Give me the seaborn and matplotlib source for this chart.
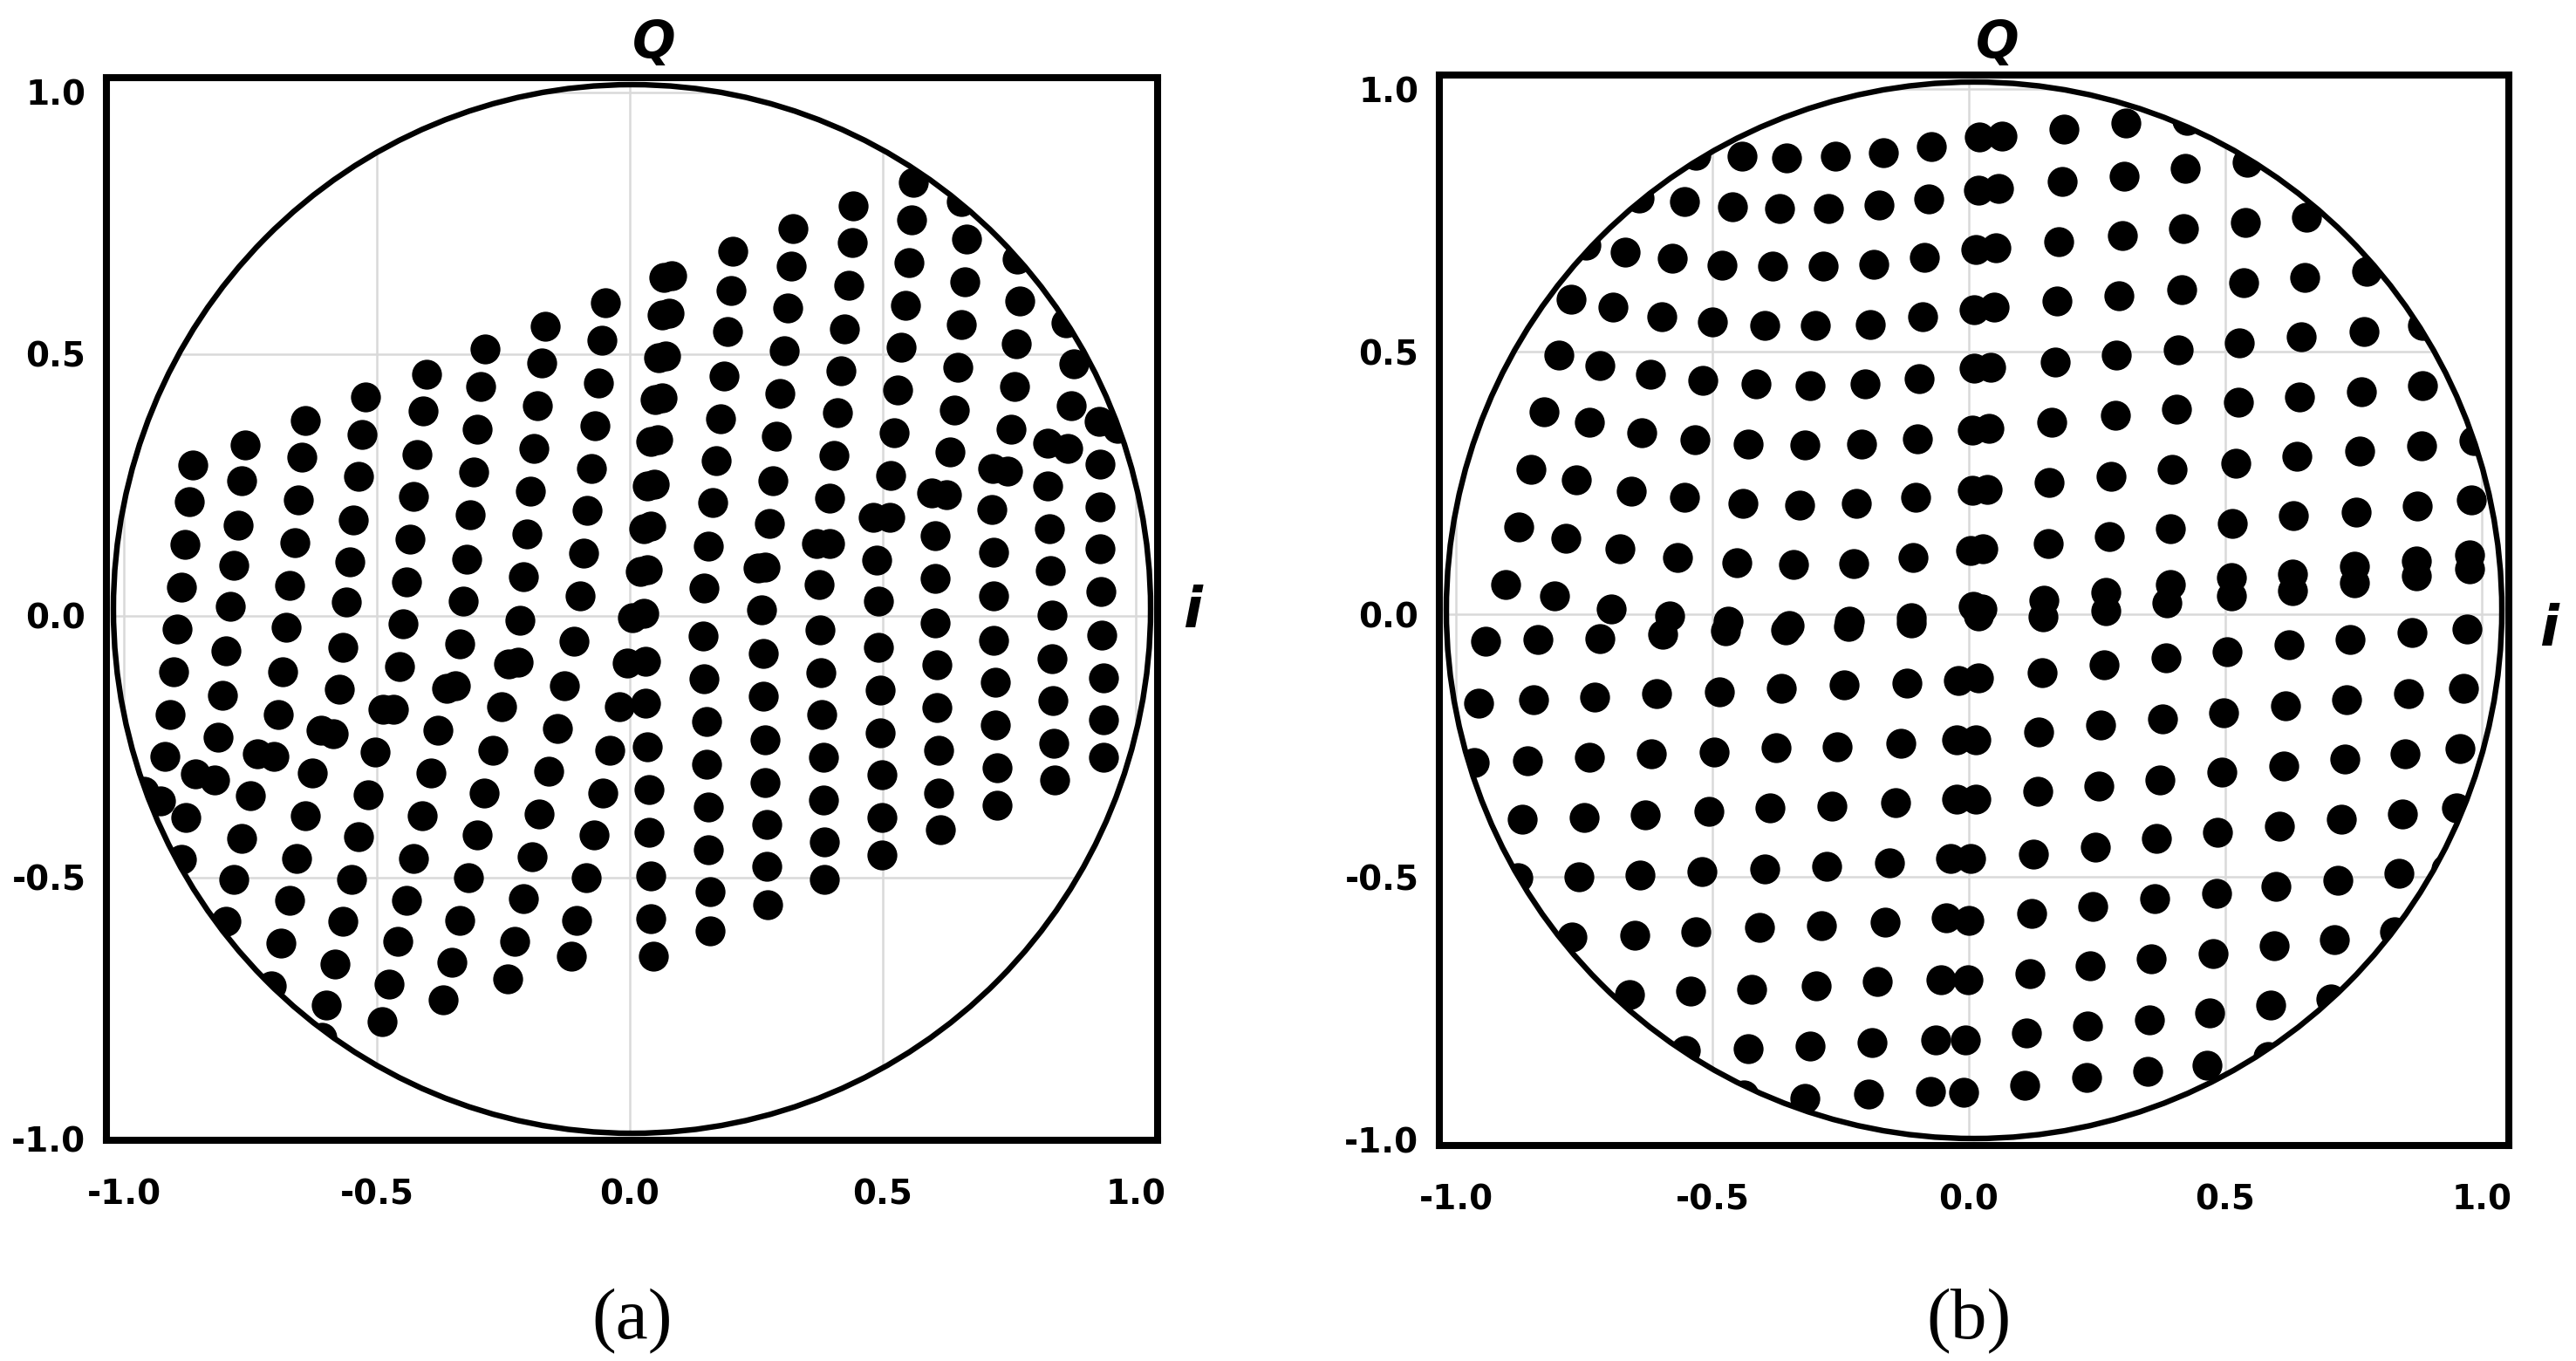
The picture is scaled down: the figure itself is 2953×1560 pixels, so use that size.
import matplotlib
matplotlib.use("Agg")
import matplotlib.pyplot as plt
from matplotlib.patches import Ellipse
import pandas as pd
import seaborn as sns

# ---------------- data (I, Q) ----------------
TICKS = [-1.0, -0.5, 0.0, 0.5, 1.0]
TICK_LABELS = ["-1.0", "-0.5", "0.0", "0.5", "1.0"]

# panel (a): upper-left slanted columns
A_UPPER_LEFT = [
    (-0.863, 0.289), (-0.870, 0.218), (-0.880, 0.137), (-0.887, 0.055),
    (-0.761, 0.326), (-0.768, 0.259), (-0.775, 0.174), (-0.782, 0.096), (-0.789, 0.019),
    (-0.641, 0.374), (-0.648, 0.303), (-0.655, 0.222), (-0.662, 0.140), (-0.673, 0.058),
    (-0.522, 0.418), (-0.529, 0.347), (-0.536, 0.266), (-0.547, 0.184), (-0.554, 0.103), (-0.561, 0.026),
    (-0.402, 0.462), (-0.409, 0.391), (-0.420, 0.309), (-0.427, 0.228), (-0.434, 0.147), (-0.441, 0.065),
    (-0.287, 0.510), (-0.294, 0.439), (-0.301, 0.357), (-0.308, 0.275), (-0.315, 0.194), (-0.322, 0.109), (-0.329, 0.028),
    (-0.168, 0.554), (-0.175, 0.483), (-0.182, 0.401), (-0.189, 0.320), (-0.196, 0.239), (-0.203, 0.157), (-0.210, 0.075),
    (-0.048, 0.598), (-0.055, 0.527), (-0.062, 0.445), (-0.069, 0.364), (-0.076, 0.282), (-0.084, 0.201), (-0.091, 0.120), (-0.098, 0.038),
]

# panel (a): lower-left part
A_LOWER_LEFT = [
    (-0.894, -0.025), (-0.680, -0.022), (-0.448, -0.015), (-0.217, -0.009),
    (-0.799, -0.067), (-0.568, -0.060), (-0.337, -0.053), (-0.110, -0.048),
    (-0.901, -0.106), (-0.687, -0.106), (-0.455, -0.096), (-0.239, -0.092), (-0.221, -0.089),
    (-0.806, -0.151), (-0.575, -0.140), (-0.362, -0.138), (-0.344, -0.134), (-0.129, -0.134),
    (-0.908, -0.188), (-0.694, -0.188), (-0.488, -0.178), (-0.467, -0.178), (-0.253, -0.174),
    (-0.814, -0.232), (-0.611, -0.218), (-0.587, -0.225), (-0.379, -0.218), (-0.143, -0.215),
    (-0.919, -0.269), (-0.736, -0.264), (-0.704, -0.269), (-0.504, -0.260), (-0.270, -0.256), (-0.039, -0.256),
    (-0.859, -0.302), (-0.821, -0.313), (-0.628, -0.300), (-0.393, -0.300), (-0.161, -0.297),
    (-0.960, -0.335), (-0.928, -0.353), (-0.750, -0.344), (-0.518, -0.341), (-0.288, -0.338), (-0.053, -0.338),
    (-0.877, -0.385), (-0.641, -0.382), (-0.411, -0.381), (-0.180, -0.378),
    (-0.887, -0.465), (-0.767, -0.425), (-0.536, -0.422), (-0.302, -0.418), (-0.070, -0.418),
    (-0.659, -0.463), (-0.427, -0.463), (-0.193, -0.460),
    (-0.782, -0.504), (-0.550, -0.504), (-0.319, -0.500), (-0.087, -0.500),
    (-0.673, -0.544), (-0.441, -0.544), (-0.210, -0.540),
    (-0.799, -0.583), (-0.568, -0.584), (-0.337, -0.581), (-0.105, -0.581),
    (-0.690, -0.625), (-0.459, -0.622), (-0.228, -0.622),
    (-0.582, -0.665), (-0.351, -0.662), (-0.115, -0.650),
    (-0.708, -0.706), (-0.476, -0.704), (-0.242, -0.693),
    (-0.600, -0.744), (-0.369, -0.734),
    (-0.609, -0.805), (-0.490, -0.775),
]

# panel (a): doubled column near I = 0
A_CENTER = [
    (0.068, 0.646), (0.082, 0.650), (0.064, 0.575), (0.078, 0.579),
    (0.057, 0.493), (0.071, 0.497), (0.050, 0.413), (0.064, 0.417),
    (0.042, 0.333), (0.056, 0.337), (0.035, 0.248), (0.049, 0.252),
    (0.028, 0.167), (0.042, 0.171), (0.021, 0.085), (0.035, 0.089),
    (0.006, -0.004), (0.028, 0.005), (-0.005, -0.090), (0.031, -0.086),
    (-0.020, -0.174), (0.031, -0.167), (0.035, -0.250), (0.038, -0.331),
    (0.038, -0.413), (0.042, -0.497), (0.042, -0.579), (0.046, -0.650),
]

# panel (a): upper-right part
A_UPPER_RIGHT = [
    (0.204, 0.696), (0.200, 0.622), (0.193, 0.544), (0.186, 0.459), (0.179, 0.377),
    (0.171, 0.296), (0.164, 0.216), (0.155, 0.133), (0.146, 0.053),
    (0.323, 0.740), (0.319, 0.669), (0.312, 0.588), (0.305, 0.507), (0.297, 0.425),
    (0.290, 0.343), (0.283, 0.259), (0.276, 0.177), (0.267, 0.094), (0.253, 0.092),
    (0.441, 0.784), (0.439, 0.713), (0.432, 0.631), (0.424, 0.549), (0.417, 0.469),
    (0.410, 0.388), (0.403, 0.306), (0.395, 0.225), (0.369, 0.139), (0.394, 0.139), (0.374, 0.060),
    (0.561, 0.828), (0.557, 0.757), (0.552, 0.675), (0.544, 0.594), (0.537, 0.513),
    (0.530, 0.432), (0.522, 0.350), (0.515, 0.269), (0.481, 0.188), (0.514, 0.188), (0.488, 0.107), (0.492, 0.029),
    (0.655, 0.791), (0.666, 0.720), (0.662, 0.638), (0.655, 0.556), (0.648, 0.475),
    (0.641, 0.394), (0.633, 0.313), (0.597, 0.235), (0.626, 0.232), (0.603, 0.154), (0.603, 0.072),
    (0.765, 0.682), (0.771, 0.602), (0.764, 0.520), (0.761, 0.439), (0.753, 0.357),
    (0.717, 0.282), (0.746, 0.277), (0.715, 0.203), (0.719, 0.121), (0.719, 0.039),
    (0.862, 0.560), (0.877, 0.481), (0.872, 0.401), (0.826, 0.330), (0.866, 0.320),
    (0.826, 0.248), (0.829, 0.166), (0.831, 0.086),
    (0.927, 0.371), (0.964, 0.359), (0.930, 0.290), (0.930, 0.208), (0.930, 0.128), (0.931, 0.046),
]

# panel (a): lower-right part
A_LOWER_RIGHT = [
    (0.144, -0.039), (0.147, -0.120), (0.151, -0.202), (0.151, -0.283), (0.155, -0.365), (0.155, -0.446), (0.158, -0.527), (0.158, -0.602),
    (0.260, 0.012), (0.263, -0.072), (0.263, -0.154), (0.267, -0.236), (0.267, -0.318), (0.271, -0.399), (0.271, -0.479), (0.273, -0.551),
    (0.376, -0.027), (0.378, -0.108), (0.380, -0.188), (0.382, -0.270), (0.383, -0.351), (0.385, -0.432), (0.385, -0.504),
    (0.492, -0.060), (0.494, -0.141), (0.494, -0.223), (0.498, -0.304), (0.498, -0.385), (0.498, -0.456),
    (0.603, -0.013), (0.607, -0.093), (0.607, -0.175), (0.610, -0.257), (0.610, -0.338), (0.614, -0.409),
    (0.719, -0.046), (0.723, -0.127), (0.723, -0.209), (0.726, -0.290), (0.726, -0.362),
    (0.835, 0.001), (0.835, -0.081), (0.837, -0.162), (0.838, -0.243), (0.839, -0.314),
    (0.933, -0.036), (0.936, -0.118), (0.936, -0.199), (0.936, -0.270),
]

# panel (b): upper-left rows
B_UPPER_LEFT = [
    (-0.532, 0.875), (-0.443, 0.873), (-0.355, 0.870), (-0.260, 0.873), (-0.167, 0.880), (-0.073, 0.891),
    (-0.643, 0.794), (-0.554, 0.787), (-0.461, 0.777), (-0.369, 0.773), (-0.274, 0.773), (-0.176, 0.780), (-0.079, 0.791),
    (-0.747, 0.703), (-0.670, 0.691), (-0.578, 0.678), (-0.482, 0.666), (-0.383, 0.664), (-0.284, 0.664), (-0.185, 0.667), (-0.086, 0.681),
    (-0.775, 0.601), (-0.694, 0.585), (-0.599, 0.567), (-0.500, 0.557), (-0.398, 0.550), (-0.299, 0.550), (-0.192, 0.553), (-0.090, 0.567),
    (-0.799, 0.494), (-0.720, 0.474), (-0.620, 0.457), (-0.518, 0.446), (-0.415, 0.439), (-0.310, 0.436), (-0.203, 0.439), (-0.097, 0.450),
    (-0.828, 0.387), (-0.740, 0.367), (-0.638, 0.346), (-0.534, 0.333), (-0.430, 0.325), (-0.320, 0.323), (-0.210, 0.325), (-0.101, 0.335),
    (-0.853, 0.277), (-0.765, 0.256), (-0.659, 0.235), (-0.554, 0.223), (-0.440, 0.212), (-0.330, 0.209), (-0.219, 0.212), (-0.104, 0.223),
    (-0.878, 0.167), (-0.786, 0.146), (-0.680, 0.125), (-0.568, 0.108), (-0.453, 0.099), (-0.341, 0.095), (-0.224, 0.097), (-0.108, 0.108),
    (-0.903, 0.057), (-0.808, 0.036), (-0.698, 0.011), (-0.584, -0.003), (-0.469, -0.013), (-0.350, -0.020), (-0.233, -0.013), (-0.112, -0.006),
]

# panel (b): lower-left rows
B_LOWER_LEFT = [
    (-0.942, -0.050), (-0.840, -0.048), (-0.720, -0.045), (-0.597, -0.038), (-0.475, -0.031), (-0.357, -0.029), (-0.234, -0.022), (-0.112, -0.015),
    (-0.956, -0.168), (-0.849, -0.162), (-0.730, -0.157), (-0.609, -0.150), (-0.486, -0.147), (-0.365, -0.140), (-0.244, -0.134), (-0.121, -0.131), (-0.020, -0.125),
    (-0.965, -0.282), (-0.860, -0.279), (-0.740, -0.272), (-0.619, -0.265), (-0.496, -0.261), (-0.376, -0.254), (-0.257, -0.251), (-0.133, -0.245), (-0.024, -0.238),
    (-0.871, -0.389), (-0.750, -0.386), (-0.631, -0.382), (-0.507, -0.375), (-0.387, -0.368), (-0.267, -0.365), (-0.143, -0.358), (-0.024, -0.352),
    (-0.879, -0.501), (-0.761, -0.499), (-0.641, -0.496), (-0.521, -0.489), (-0.398, -0.485), (-0.277, -0.479), (-0.154, -0.472), (-0.035, -0.465),
    (-0.773, -0.613), (-0.652, -0.610), (-0.532, -0.603), (-0.408, -0.596), (-0.288, -0.592), (-0.164, -0.585), (-0.045, -0.578),
    (-0.662, -0.723), (-0.543, -0.716), (-0.423, -0.713), (-0.298, -0.706), (-0.178, -0.699), (-0.055, -0.695),
    (-0.552, -0.830), (-0.430, -0.826), (-0.309, -0.821), (-0.189, -0.814), (-0.065, -0.810),
    (-0.438, -0.914), (-0.320, -0.921), (-0.196, -0.912), (-0.075, -0.907),
]

# panel (b): upper-right columns (first one doubled)
B_UPPER_RIGHT = [
    (0.021, 0.910), (0.064, 0.911), (0.018, 0.808), (0.057, 0.812), (0.014, 0.695), (0.053, 0.698),
    (0.010, 0.581), (0.050, 0.585), (0.010, 0.469), (0.043, 0.471), (0.007, 0.352), (0.039, 0.354),
    (0.007, 0.236), (0.036, 0.239), (0.003, 0.122), (0.028, 0.125), (0.008, 0.015), (0.025, 0.010), (0.018, -0.003),
    (0.186, 0.925), (0.182, 0.824), (0.175, 0.710), (0.171, 0.597), (0.168, 0.481), (0.161, 0.366), (0.157, 0.252), (0.154, 0.136), (0.147, 0.028), (0.145, -0.004),
    (0.306, 0.936), (0.302, 0.835), (0.299, 0.721), (0.292, 0.607), (0.288, 0.494), (0.285, 0.380), (0.277, 0.263), (0.274, 0.149), (0.267, 0.043), (0.267, 0.008),
    (0.426, 0.941), (0.422, 0.849), (0.418, 0.735), (0.415, 0.618), (0.408, 0.504), (0.404, 0.391), (0.397, 0.277), (0.393, 0.163), (0.392, 0.057), (0.386, 0.022),
    (0.542, 0.861), (0.539, 0.747), (0.535, 0.632), (0.528, 0.518), (0.525, 0.404), (0.521, 0.288), (0.514, 0.174), (0.512, 0.071), (0.512, 0.036),
    (0.658, 0.756), (0.655, 0.642), (0.648, 0.529), (0.644, 0.415), (0.640, 0.301), (0.633, 0.188), (0.631, 0.078), (0.631, 0.046),
    (0.775, 0.653), (0.771, 0.539), (0.766, 0.425), (0.762, 0.312), (0.755, 0.196), (0.751, 0.092), (0.751, 0.060),
    (0.884, 0.550), (0.885, 0.436), (0.882, 0.322), (0.874, 0.207), (0.872, 0.102), (0.872, 0.074),
    (0.984, 0.332), (0.980, 0.218), (0.977, 0.113), (0.977, 0.088),
]

# panel (b): lower-right columns
B_LOWER_RIGHT = [
    (0.018, -0.120), (0.014, -0.238), (0.014, -0.351), (0.003, -0.465), (0.000, -0.582), (-0.002, -0.696), (-0.007, -0.810), (-0.011, -0.910),
    (0.143, -0.110), (0.136, -0.224), (0.134, -0.337), (0.125, -0.456), (0.123, -0.569), (0.119, -0.683), (0.112, -0.796), (0.108, -0.896),
    (0.263, -0.096), (0.256, -0.210), (0.254, -0.326), (0.247, -0.442), (0.242, -0.555), (0.236, -0.669), (0.232, -0.783), (0.229, -0.882),
    (0.384, -0.082), (0.377, -0.199), (0.373, -0.314), (0.366, -0.426), (0.363, -0.541), (0.355, -0.655), (0.352, -0.772), (0.349, -0.870),
    (0.504, -0.071), (0.497, -0.187), (0.494, -0.300), (0.485, -0.414), (0.483, -0.531), (0.476, -0.645), (0.469, -0.758), (0.465, -0.858),
    (0.624, -0.057), (0.617, -0.173), (0.614, -0.289), (0.606, -0.403), (0.599, -0.517), (0.596, -0.631), (0.589, -0.744), (0.583, -0.842),
    (0.744, -0.048), (0.737, -0.162), (0.733, -0.275), (0.726, -0.389), (0.719, -0.506), (0.713, -0.618), (0.705, -0.732),
    (0.864, -0.034), (0.857, -0.150), (0.850, -0.265), (0.846, -0.379), (0.839, -0.493), (0.830, -0.603),
    (0.971, -0.027), (0.964, -0.141), (0.957, -0.255), (0.950, -0.368), (0.931, -0.484),
]

PANEL_A = A_UPPER_LEFT + A_LOWER_LEFT + A_CENTER + A_UPPER_RIGHT + A_LOWER_RIGHT
PANEL_B = B_UPPER_LEFT + B_LOWER_LEFT + B_UPPER_RIGHT + B_LOWER_RIGHT

# ---------------- figure ----------------
W, H = 2953, 1560
sns.set_theme(style="white")
plt.rcParams["font.family"] = ["DejaVu Sans"]
plt.rcParams["axes.unicode_minus"] = False

fig = plt.figure(figsize=(W / 100, H / 100), dpi=100)
fig.patch.set_facecolor("white")


def px_rect(l, t, r, b):
    return [l / W, 1 - b / H, (r - l) / W, (b - t) / H]


panels = [
    dict(rect=px_rect(122, 89, 1327, 1307), xlim=(-1.0345, 1.0431), ylim=(-1.0017, 1.0283),
         pts=PANEL_A, q=(750, 66), i=(1367, 719), cap=(725, 1534), label="(a)", wpx=1205, hpx=1218),
    dict(rect=px_rect(1650, 86, 2876, 1313), xlim=(-1.0323, 1.0527), ylim=(-1.0108, 1.0274),
         pts=PANEL_B, q=(2290, 66), i=(2922, 740), cap=(2257, 1534), label="(b)", wpx=1226, hpx=1227),
]

for p in panels:
    ax = fig.add_axes(p["rect"])
    x0, x1 = p["xlim"]
    y0, y1 = p["ylim"]
    cx, cy = (x0 + x1) / 2, (y0 + y1) / 2
    ew = (x1 - x0) * (1 - 16 / p["wpx"])
    eh = (y1 - y0) * (1 - 16 / p["hpx"])

    clip = Ellipse((cx, cy), ew, eh, transform=ax.transData,
                   facecolor="none", edgecolor="none")
    ax.add_patch(clip)

    for v in TICKS:
        gl = ax.axvline(v, color="#d9d9d9", lw=1.8, zorder=1)
        gl.set_clip_path(clip)
        gl = ax.axhline(v, color="#d9d9d9", lw=1.8, zorder=1)
        gl.set_clip_path(clip)

    df = pd.DataFrame(p["pts"], columns=["I", "Q"])
    sns.scatterplot(data=df, x="I", y="Q", ax=ax, s=610, color="black",
                    linewidth=0, legend=False, zorder=2)
    ax.collections[-1].set_clip_path(clip)

    ring = Ellipse((cx, cy), ew, eh, transform=ax.transData,
                   fill=False, edgecolor="black", lw=4.6, zorder=3)
    ax.add_patch(ring)

    ax.set_xlim(x0, x1)
    ax.set_ylim(y0, y1)
    ax.set_xticks(TICKS)
    ax.set_xticklabels(TICK_LABELS, fontsize=28, fontweight="bold")
    ax.set_yticks(TICKS)
    ax.set_yticklabels(TICK_LABELS, fontsize=28, fontweight="bold")
    ax.tick_params(axis="x", length=0, pad=31, colors="black")
    ax.tick_params(axis="y", length=0, pad=17, colors="black")
    ax.set_xlabel("")
    ax.set_ylabel("")
    ax.grid(False)
    for s in ax.spines.values():
        s.set_visible(True)
        s.set_color("black")
        s.set_linewidth(5.8)
        s.set_zorder(5)

    fig.text(p["q"][0] / W, 1 - p["q"][1] / H, "Q", fontsize=42, fontweight="bold",
             fontstyle="italic", ha="center", va="baseline", color="black")
    fig.text(p["i"][0] / W, 1 - p["i"][1] / H, "i", fontsize=46, fontweight="bold",
             fontstyle="italic", ha="center", va="baseline", color="black")
    fig.text(p["cap"][0] / W, 1 - p["cap"][1] / H, p["label"], fontsize=60,
             family=["Liberation Serif", "DejaVu Serif"], ha="center", va="baseline",
             color="black")

fig.savefig("out.png", dpi=100, facecolor="white")
